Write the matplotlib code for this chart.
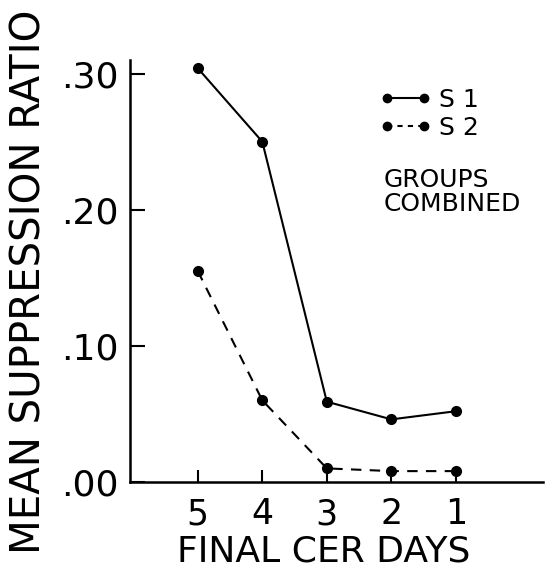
import matplotlib
matplotlib.use("Agg")
import matplotlib.pyplot as plt
from matplotlib.lines import Line2D

plt.rcParams['font.family'] = ['DejaVu Sans']

days = ['5', '4', '3', '2', '1']
s1 = [0.304, 0.250, 0.059, 0.046, 0.052]
s2 = [0.155, 0.060, 0.010, 0.008, 0.008]
yticks = [0.00, 0.10, 0.20, 0.30]
ytick_labels = ['.00', '.10', '.20', '.30']
series_labels = ['S 1', 'S 2']

W, H = 551, 570
fig = plt.figure(figsize=(W / 100, H / 100), dpi=100)
ax = fig.add_axes([130 / W, 1 - 482 / H, 413 / W, 422 / H])

xpos = list(range(len(days)))
l1, = ax.plot(xpos, s1, color='black', lw=1.5, marker='o', ms=7)
l2, = ax.plot(xpos, s2, color='black', lw=1.5, ls=(0, (5, 4)), marker='o', ms=7)

ax.set_xlim(-1.05, 5.35)
ax.set_ylim(0, 0.31)
ax.set_xticks(xpos)
ax.set_xticklabels(days, fontsize=25)
ax.set_yticks(yticks)
ax.set_yticklabels(ytick_labels, fontsize=26)

for s in ['top', 'right']:
    ax.spines[s].set_visible(False)
for s in ['left', 'bottom']:
    ax.spines[s].set_linewidth(1.8)

ax.tick_params(axis='y', direction='in', length=11, width=1.5, pad=8)
ax.tick_params(axis='x', direction='in', length=9, width=1.5, pad=11)

ax.set_ylabel('MEAN SUPPRESSION RATIO', fontsize=29)
ax.yaxis.set_label_coords(-0.194, 0.474)
ax.set_xlabel('FINAL CER DAYS', fontsize=26)
ax.xaxis.set_label_coords(0.47, -0.124)

h1 = Line2D([], [], color='black', lw=1.5, marker='o', ms=6)
h2 = Line2D([], [], color='black', lw=1.5, ls=(0, (2.5, 2.5)), marker='o', ms=6)
leg = ax.legend([h1, h2], series_labels, numpoints=2, frameon=False,
                fontsize=18, handlelength=2.1, handletextpad=0.3,
                labelspacing=0.16, loc='upper left',
                bbox_to_anchor=(379 / W, 1 - 88 / H), bbox_transform=fig.transFigure,
                borderaxespad=0, borderpad=0)

fig.text(384 / W, 1 - 168 / H, 'GROUPS\nCOMBINED', fontsize=18, ha='left', va='top',
         linespacing=1.0)

fig.savefig('out.png', dpi=100)
